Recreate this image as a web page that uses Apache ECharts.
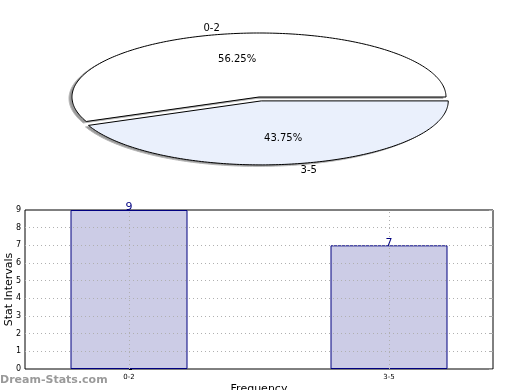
<!DOCTYPE html>
<html><head><meta charset="utf-8">
<script src="https://cdn.jsdelivr.net/npm/echarts@6/dist/echarts.min.js"></script>
<style>html,body{margin:0;padding:0;background:#fff}#c{width:520px;height:390px}</style>
</head><body><div id="c"></div>
<script>
const categories = ['0-2', '3-5'];
const values = [9, 7];
const yTicks = [1, 2, 3, 4, 5, 6, 7, 8];

const FONT = '"DejaVu Sans", sans-serif';
const total = values.reduce((a, b) => a + b, 0);
const pieFills = ['#ffffff', '#eaf0fc'];
const explode = [0, 0.062];
const PC = { cx: 259, cy: 97, rx: 187, ry: 64 };

function pieItem(params, api) {
  const i = params.dataIndex;
  let before = 0;
  for (let k = 0; k < i; k++) before += values[k];
  const a0 = before / total * 360;
  const a1 = (before + api.value(0)) / total * 360;
  const mid = (a0 + a1) / 2 * Math.PI / 180;
  const cx = PC.cx + explode[i] * PC.rx * Math.cos(mid);
  const cy = PC.cy - explode[i] * PC.ry * Math.sin(mid);
  const pts = [[cx, cy]];
  const steps = Math.max(2, Math.ceil(a1 - a0));
  for (let s = 0; s <= steps; s++) {
    const a = (a0 + (a1 - a0) * s / steps) * Math.PI / 180;
    pts.push([cx + PC.rx * Math.cos(a), cy - PC.ry * Math.sin(a)]);
  }
  const pct = (api.value(0) / total * 100).toFixed(2) + '%';
  const txt = (t, fx, fy) => ({
    type: 'text',
    x: cx + fx * PC.rx * Math.cos(mid),
    y: cy - fy * PC.ry * Math.sin(mid),
    style: { text: t, fill: '#000', font: '10px ' + FONT, align: 'center', verticalAlign: 'middle', textAlign: 'center', textVerticalAlign: 'middle' },
    z2: 10
  });
  return {
    type: 'group',
    children: [
      { type: 'polygon', shape: { points: pts }, x: -3, y: 1.5, z2: 0,
        style: { fill: '#9a9a9a', stroke: '#b8b8b8', lineWidth: 1 } },
      { type: 'polygon', shape: { points: pts }, z2: 5,
        style: { fill: pieFills[i], stroke: '#000', lineWidth: 1 } },
      txt(pct, 0.6, 0.6),
      txt(categories[i], 1.3, 1.1)
    ]
  };
}

const chart = echarts.init(document.getElementById('c'), null, { renderer: 'canvas' });
chart.setOption({
  animation: false,
  backgroundColor: '#fff',
  textStyle: { fontFamily: FONT },
  grid: { left: 25, top: 210, right: 27, bottom: 21, containLabel: false, outerBoundsMode: 'none',
          show: true, borderColor: '#000', borderWidth: 1, backgroundColor: 'transparent' },
  xAxis: {
    type: 'value', min: -0.4, max: 1.4, interval: 0.2,
    axisLine: { show: false }, axisTick: { show: false }, splitLine: { show: false },
    axisLabel: { fontSize: 7, color: '#000', margin: 5, fontFamily: FONT,
      formatter: v => { const i = Math.round(v); return (Math.abs(v - i) < 1e-6 && categories[i]) ? categories[i] : ''; } },
    name: 'Frequency', nameLocation: 'middle', nameGap: 15, nameMoveOverlap: false,
    nameTextStyle: { fontSize: 11, color: '#000', fontFamily: FONT }
  },
  yAxis: [{
    type: 'value', min: 0, max: 9, interval: 1,
    axisLine: { show: false },
    axisTick: { show: true, inside: true, length: 3, lineStyle: { color: '#000' } },
    splitLine: { show: false },
    axisLabel: { fontSize: 8, color: '#000', margin: 4, fontFamily: FONT },
    name: 'Stat Intervals', nameLocation: 'middle', nameRotate: 90, nameGap: 10, nameMoveOverlap: false,
    nameTextStyle: { fontSize: 11, color: '#000', fontFamily: FONT }
  }, {
    type: 'value', min: 0, max: 9, interval: 1, position: 'right',
    axisLine: { show: false },
    axisTick: { show: true, inside: true, length: 4, lineStyle: { color: '#aaa' } },
    splitLine: { show: false }, axisLabel: { show: false }
  }],
  graphic: [{
    type: 'text', left: 0, top: 375,
    style: { text: 'Dream-Stats.com', fill: '#9a9a9a', font: 'bold 11px ' + FONT }
  }],
  series: [{
    type: 'custom', coordinateSystem: 'none', renderItem: pieItem,
    data: values.map(v => [v]), silent: true
  }, {
    type: 'bar', xAxisIndex: 0, yAxisIndex: 0,
    data: values.map((v, i) => [i, v]),
    barWidth: 117,
    itemStyle: { color: '#ccccE6', borderColor: '#000080', borderWidth: 1 },
    label: { show: true, position: 'top', distance: -3, color: '#000080', fontSize: 11, fontFamily: FONT },
    markLine: {
      silent: true, symbol: 'none', label: { show: false },
      lineStyle: { color: '#b0b0b0', type: [1, 3], width: 1 },
      data: yTicks.map(t => ({ yAxis: t })).concat(categories.map((c, i) => ({ xAxis: i })))
    }
  }]
});
</script></body></html>
